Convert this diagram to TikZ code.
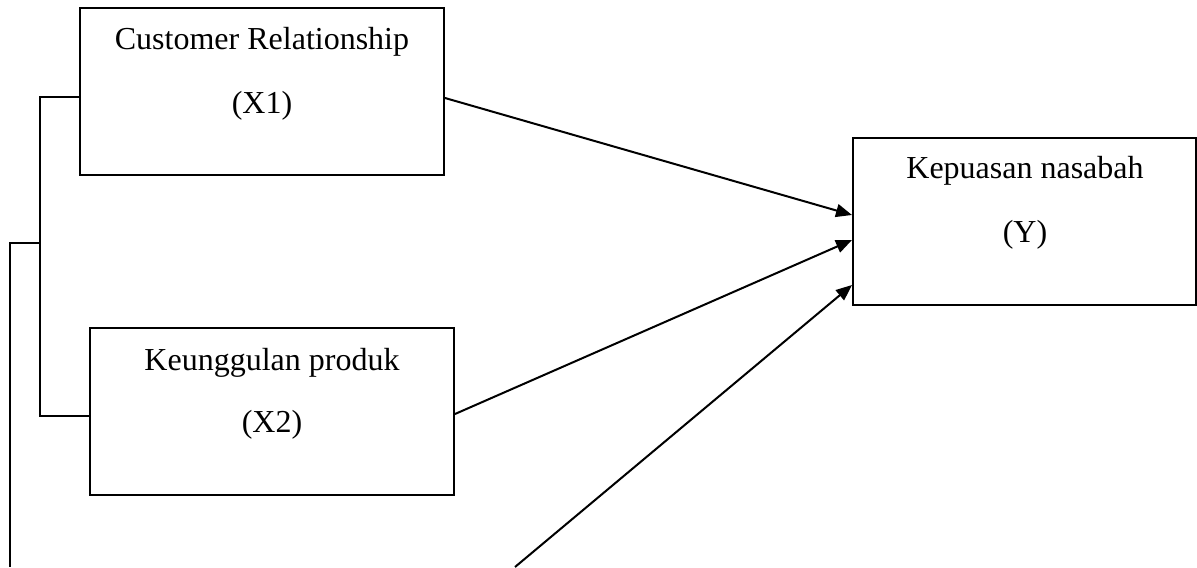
\documentclass[tikz,border=0pt]{standalone}
\usepackage{fontspec}
\setmainfont{Liberation Serif}
\usetikzlibrary{arrows.meta}
\begin{document}
\begin{tikzpicture}[x=0.5pt,y=-0.5pt,
  box/.style={draw,line width=1pt,inner sep=0pt,minimum width=182pt,minimum height=83.5pt},
  lbl/.style={anchor=base,inner sep=0pt,font=\fontsize{16}{20}\selectfont},
  conn/.style={line width=1pt},
  arr/.style={line width=1pt,-{Triangle[length=8pt,width=6.5pt]}}]
\useasboundingbox (0,0) rectangle (1197,567);
% boxes
\node[box] (X1) at (262,91.5) {};
\node[box] (X2) at (272,411.5) {};
\node[box,minimum width=171.5pt] (Y) at (1024.5,221) {};
% labels
\node[lbl] (t1a) at (262,50) {Customer Relationship};
\node[lbl] (t1b) at (262,113) {(X1)};
\node[lbl] (t2a) at (272,370) {Keunggulan produk};
\node[lbl] (t2b) at (272,432) {(X2)};
\node[lbl] (t3a) at (1025,178) {Kepuasan nasabah};
\node[lbl] (t3b) at (1025,242) {(Y)};
% junction coordinates
\coordinate (j1) at (40,97);
\coordinate (j2) at (40,416);
\coordinate (j0) at (40,243);
\coordinate (k0) at (10,243);
\coordinate (k1) at (10,567);
\coordinate (a1) at (0,98);
\coordinate (a2) at (0,414);
\coordinate (y1) at (0,215);
\coordinate (y2) at (0,240);
\coordinate (y3) at (0,285);
\coordinate (s3) at (515,567);
% bracket
\draw[conn] (X1.west |- j1) -- (j1) -- (j2) -- (X2.west |- j2);
\draw[conn] (j0) -- (k0) -- (k1);
% arrows
\draw[arr] (X1.east |- a1) -- (Y.west |- y1);
\draw[arr] (X2.east |- a2) -- (Y.west |- y2);
\draw[arr] (s3) -- (Y.west |- y3);
\end{tikzpicture}
\end{document}
